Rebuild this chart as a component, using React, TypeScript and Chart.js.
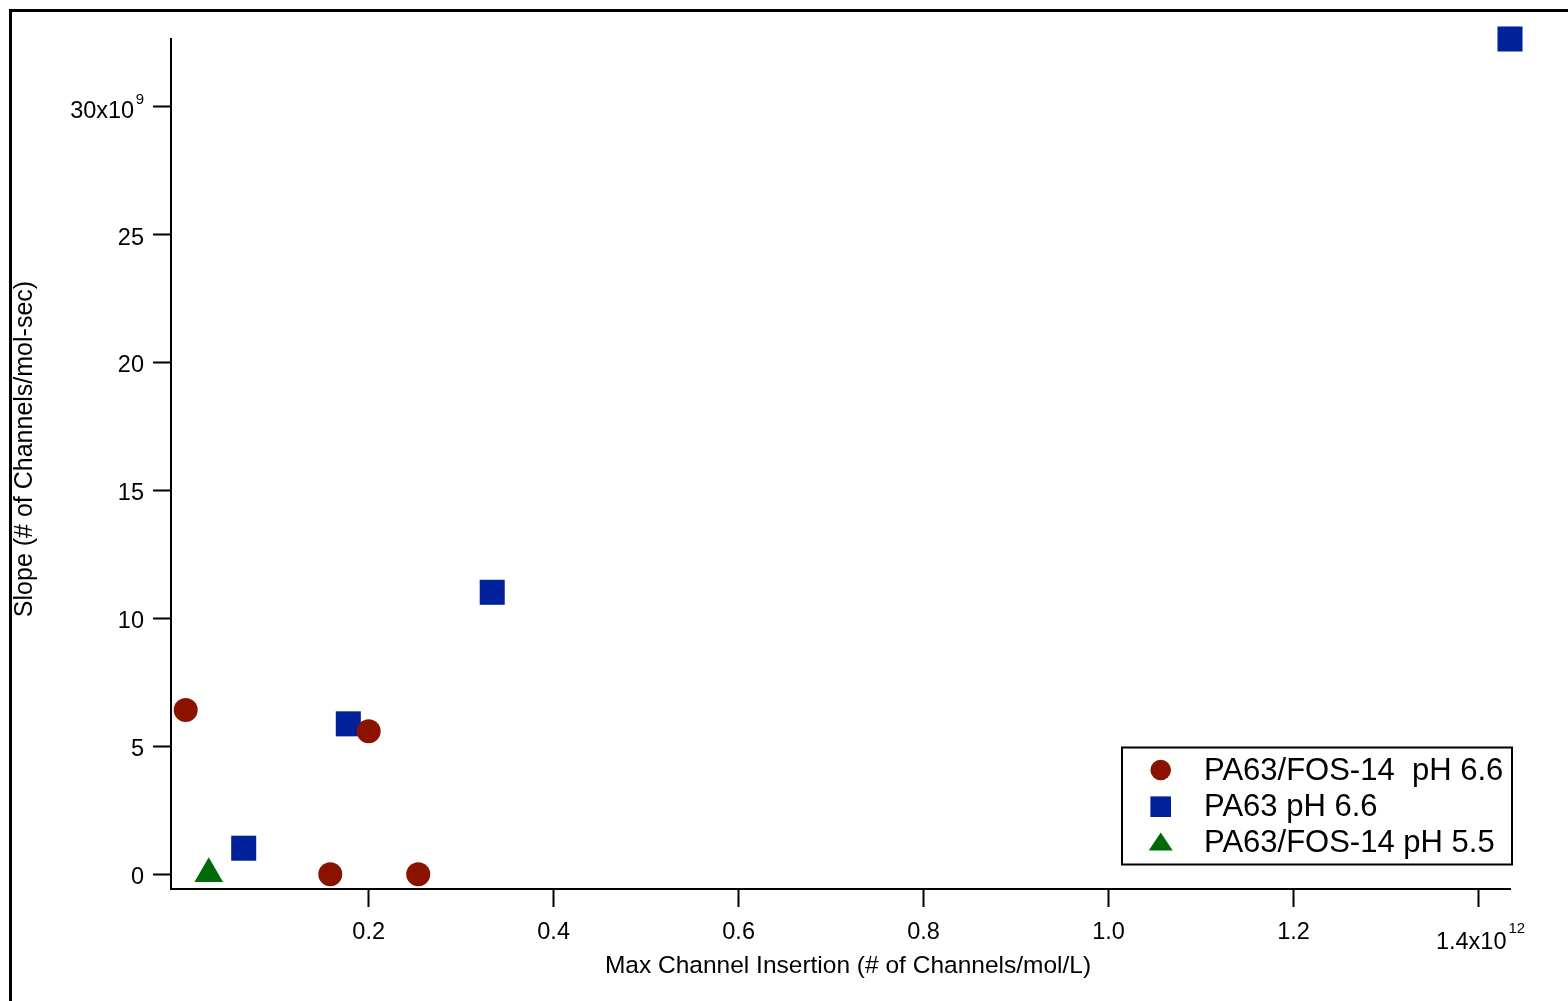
import React, { useEffect, useRef } from 'react';
import { Chart, registerables } from 'chart.js';

Chart.register(...registerables);

// ---- Data (x in channels/mol/L, y in channels/mol-sec) ----
const FOS66_X = [0.0022e12, 0.2e12, 0.1585e12, 0.2536e12];
const FOS66_Y = [6.42e9, 5.59e9, 0, 0];
const PA63_X = [0.0649e12, 0.178e12, 0.3336e12, 1.434e12];
const PA63_Y = [1.02e9, 5.88e9, 11.02e9, 32.64e9];
const FOS55_X = [0.0271e12];
const FOS55_Y = [0.02e9];

const SERIES_LABELS = ['PA63/FOS-14  pH 6.6', 'PA63 pH 6.6', 'PA63/FOS-14 pH 5.5'];
const SERIES_COLORS = ['#8c1200', '#00219a', '#006a08'];

const X_TICKS = [0.2e12, 0.4e12, 0.6e12, 0.8e12, 1.0e12, 1.2e12, 1.4e12];
const X_TICK_LABELS = ['0.2', '0.4', '0.6', '0.8', '1.0', '1.2', '1.4x10'];
const X_EXPONENT = '12';
const Y_TICKS = [0, 5e9, 10e9, 15e9, 20e9, 25e9, 30e9];
const Y_TICK_LABELS = ['0', '5', '10', '15', '20', '25', '30x10'];
const Y_EXPONENT = '9';
const X_TITLE = 'Max Channel Insertion (# of Channels/mol/L)';
const Y_TITLE = 'Slope (# of Channels/mol-sec)';
const X_RANGE = [-0.0137e12, 1.434e12];
const Y_RANGE = [-0.574e9, 32.64e9];

const FONT = '"Liberation Sans", Arial, Helvetica, sans-serif';

function toPoints(xs: number[], ys: number[]) {
  return xs.map((x, i) => ({ x, y: ys[i] }));
}

const decorPlugin = {
  id: 'decor',
  afterDraw(chart: any) {
    const ctx: CanvasRenderingContext2D = chart.ctx;
    const xs = chart.scales.x;
    const ys = chart.scales.y;
    const area = chart.chartArea;
    ctx.save();
    // outer frame
    ctx.strokeStyle = '#000';
    ctx.lineWidth = 3;
    ctx.strokeRect(10.5, 10.5, 1620, 1100);

    ctx.fillStyle = '#000';
    const tickFont = `23.5px ${FONT}`;
    const supFont = `15px ${FONT}`;

    // y tick labels
    ctx.textBaseline = 'alphabetic';
    Y_TICKS.forEach((v, i) => {
      const y = ys.getPixelForValue(v);
      const isLast = i === Y_TICKS.length - 1;
      const right = area.left - 27;
      if (isLast) {
        ctx.font = supFont;
        const sw = ctx.measureText(Y_EXPONENT).width;
        ctx.textAlign = 'left';
        ctx.fillText(Y_EXPONENT, right - sw, y - 3);
        ctx.font = tickFont;
        ctx.textAlign = 'right';
        ctx.fillText(Y_TICK_LABELS[i], right - sw - 1.5, y + 11.5);
      } else {
        ctx.font = tickFont;
        ctx.textAlign = 'right';
        ctx.fillText(Y_TICK_LABELS[i], right, y + 10);
      }
    });

    // x tick labels
    X_TICKS.forEach((v, i) => {
      const x = xs.getPixelForValue(v);
      const isLast = i === X_TICKS.length - 1;
      if (isLast) {
        ctx.font = tickFont;
        const mw = ctx.measureText(X_TICK_LABELS[i]).width;
        ctx.font = supFont;
        const sw = ctx.measureText(X_EXPONENT).width;
        const total = mw + 2 + sw;
        const start = x + 2 - total / 2;
        ctx.font = tickFont;
        ctx.textAlign = 'left';
        ctx.fillText(X_TICK_LABELS[i], start, area.bottom + 60);
        ctx.font = supFont;
        ctx.fillText(X_EXPONENT, start + mw + 2, area.bottom + 44);
      } else {
        ctx.font = tickFont;
        ctx.textAlign = 'center';
        ctx.fillText(X_TICK_LABELS[i], x, area.bottom + 50);
      }
    });

    // axis titles
    ctx.font = `24.5px ${FONT}`;
    ctx.textAlign = 'center';
    ctx.fillText(X_TITLE, 848, 973);
    ctx.save();
    ctx.translate(32, 449);
    ctx.rotate(-Math.PI / 2);
    ctx.font = `25px ${FONT}`;
    ctx.textAlign = 'center';
    ctx.fillText(Y_TITLE, 0, 0);
    ctx.restore();

    // legend
    ctx.lineWidth = 2;
    ctx.strokeStyle = '#000';
    ctx.strokeRect(1122, 747.5, 390, 117);
    const mx = 1160.7;
    const rowsY = [770, 806.7, 842.5];
    const baselines = [779.5, 816, 852];
    // circle
    ctx.fillStyle = SERIES_COLORS[0];
    ctx.beginPath();
    ctx.arc(mx, rowsY[0], 10.3, 0, Math.PI * 2);
    ctx.fill();
    // square
    ctx.fillStyle = SERIES_COLORS[1];
    ctx.fillRect(mx - 10.3, rowsY[1] - 10.3, 20.6, 20.6);
    // triangle
    ctx.fillStyle = SERIES_COLORS[2];
    ctx.beginPath();
    ctx.moveTo(mx, rowsY[2] - 10);
    ctx.lineTo(mx + 12, rowsY[2] + 8);
    ctx.lineTo(mx - 12, rowsY[2] + 8);
    ctx.closePath();
    ctx.fill();
    ctx.fillStyle = '#000';
    ctx.font = `31px ${FONT}`;
    ctx.textAlign = 'left';
    SERIES_LABELS.forEach((t, i) => ctx.fillText(t, 1204, baselines[i]));

    ctx.restore();
  },
};

export default function App() {
  const ref = useRef<HTMLCanvasElement | null>(null);
  useEffect(() => {
    if (!ref.current) return;
    const axisCommon = {
      type: 'linear' as const,
      grid: {
        display: true,
        drawOnChartArea: false,
        drawTicks: true,
        tickLength: 18,
        tickWidth: 2,
        tickColor: '#000',
      },
      border: { display: true, color: '#000', width: 2 },
      ticks: { display: false },
    };
    const chart = new Chart(ref.current, {
      type: 'scatter',
      data: {
        datasets: [
          {
            label: SERIES_LABELS[0],
            data: toPoints(FOS66_X, FOS66_Y),
            pointStyle: 'circle',
            pointRadius: 12,
            backgroundColor: SERIES_COLORS[0],
            borderWidth: 0,
            clip: false,
          },
          {
            label: SERIES_LABELS[1],
            data: toPoints(PA63_X, PA63_Y),
            pointStyle: 'rect',
            pointRadius: 17.7,
            backgroundColor: SERIES_COLORS[1],
            borderWidth: 0,
            clip: false,
          },
          {
            label: SERIES_LABELS[2],
            data: toPoints(FOS55_X, FOS55_Y),
            pointStyle: 'triangle',
            pointRadius: 16.5,
            backgroundColor: SERIES_COLORS[2],
            borderWidth: 0,
            clip: false,
          },
        ] as any,
      },
      options: {
        responsive: false,
        animation: false,
        layout: { padding: { left: 153, top: 39, right: 58, bottom: 94 } },
        plugins: {
          legend: { display: false },
          tooltip: { enabled: false },
          title: { display: false },
        },
        scales: {
          x: {
            ...axisCommon,
            position: 'bottom',
            min: X_RANGE[0],
            max: X_RANGE[1],
            afterBuildTicks: (s: any) => {
              s.ticks = X_TICKS.map((v) => ({ value: v }));
            },
          },
          y: {
            ...axisCommon,
            position: 'left',
            min: Y_RANGE[0],
            max: Y_RANGE[1],
            afterBuildTicks: (s: any) => {
              s.ticks = Y_TICKS.map((v) => ({ value: v }));
            },
          },
        } as any,
      },
      plugins: [decorPlugin],
    });
    return () => chart.destroy();
  }, []);
  return (
    <div
      style={{
        position: 'fixed',
        left: 0,
        top: 0,
        width: 1568,
        height: 1001,
        background: '#fff',
        overflow: 'hidden',
      }}
    >
      <canvas ref={ref} width={1568} height={1001} style={{ display: 'block' }} />
    </div>
  );
}
